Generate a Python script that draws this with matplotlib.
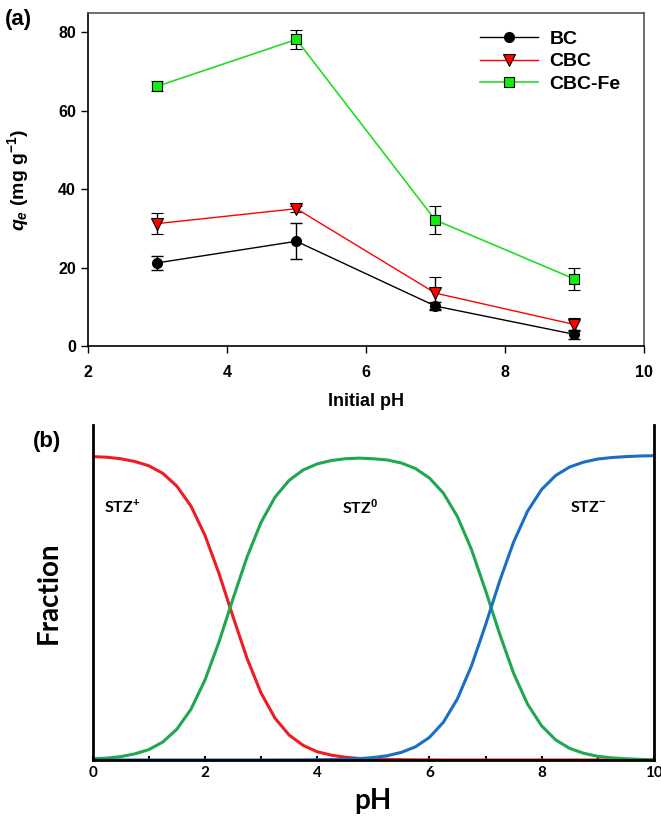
import numpy as np
import matplotlib
matplotlib.use('Agg')
import matplotlib.pyplot as plt

plt.rcParams['mathtext.fontset'] = 'custom'
plt.rcParams['mathtext.rm'] = 'Liberation Sans:bold'
plt.rcParams['mathtext.it'] = 'Liberation Sans:bold:italic'
plt.rcParams['mathtext.bf'] = 'Liberation Sans:bold'

# ---- panel (a): adsorption capacity vs initial pH
ph_a = [3, 5, 7, 9]
bc = [21.3, 26.8, 10.3, 3.1]
bc_err = [1.8, 4.6, 1.0, 1.1]
cbc = [31.3, 35.1, 13.6, 5.6]
cbc_err = [2.6, 0.8, 4.1, 1.6]
cbcfe = [66.3, 78.2, 32.2, 17.2]
cbcfe_err = [1.2, 2.5, 3.6, 2.9]

# ---- panel (b): species fractions
ph_b = [0.0, 0.25, 0.5, 0.75, 1.0, 1.25, 1.5, 1.75, 2.0, 2.25, 2.5, 2.75, 3.0,
        3.25, 3.5, 3.75, 4.0, 4.25, 4.5, 4.75, 5.0, 5.25, 5.5, 5.75, 6.0, 6.25,
        6.5, 6.75, 7.0, 7.25, 7.5, 7.75, 8.0, 8.25, 8.5, 8.75, 9.0, 9.25, 9.5,
        9.75, 10.0]
stz_pos = [0.996, 0.994, 0.989, 0.980, 0.966, 0.941, 0.899, 0.834, 0.738, 0.613,
           0.471, 0.334, 0.220, 0.137, 0.082, 0.048, 0.027, 0.016, 0.009, 0.005,
           0.003, 0.002, 0.001, 0.0005, 0.0003, 0.0, 0.0, 0.0, 0.0, 0.0, 0.0,
           0.0, 0.0, 0.0, 0.0, 0.0, 0.0, 0.0, 0.0, 0.0, 0.0]
stz_zero = [0.004, 0.006, 0.011, 0.020, 0.034, 0.059, 0.101, 0.166, 0.262, 0.387,
            0.529, 0.666, 0.780, 0.863, 0.918, 0.952, 0.972, 0.983, 0.989, 0.991,
            0.989, 0.985, 0.975, 0.957, 0.926, 0.876, 0.799, 0.691, 0.557, 0.415,
            0.285, 0.183, 0.112, 0.066, 0.038, 0.022, 0.012, 0.007, 0.004, 0.002,
            0.001]
stz_neg = [0.0, 0.0, 0.0, 0.0, 0.0, 0.0, 0.0, 0.0, 0.0, 0.0, 0.0, 0.0, 0.0,
           0.0001, 0.0002, 0.0004, 0.0008, 0.0014, 0.0025, 0.0044, 0.008, 0.014,
           0.025, 0.043, 0.074, 0.124, 0.201, 0.309, 0.443, 0.586, 0.715, 0.817,
           0.888, 0.934, 0.962, 0.978, 0.988, 0.993, 0.996, 0.998, 0.999]

fig = plt.figure(figsize=(6.61, 8.24), dpi=100)

# ---------------- (a)
ax1 = fig.add_axes([0.133, 0.5795, 0.841, 0.405])
ax1.errorbar(ph_a, bc, yerr=bc_err, color='black', lw=1, marker='o', ms=7,
             mfc='black', mec='black', ecolor='black', elinewidth=1, capsize=4,
             label='BC', zorder=3)
ax1.errorbar(ph_a, cbc, yerr=cbc_err, color='red', lw=1, marker='v', ms=8,
             mfc='red', mec='black', mew=0.8, ecolor='black', elinewidth=1,
             capsize=4, label='CBC', zorder=3)
ax1.errorbar(ph_a, cbcfe, yerr=cbcfe_err, color='#22dd22', lw=1.2, marker='s',
             ms=7, mfc='#11ee11', mec='black', mew=0.8, ecolor='black',
             elinewidth=1, capsize=4, label='CBC-Fe', zorder=3)
ax1.set_xlim(2, 10)
ax1.set_ylim(0, 85)
ax1.set_xticks([2, 4, 6, 8, 10])
ax1.set_yticks([0, 20, 40, 60, 80])
for s in ax1.spines.values():
    s.set_color('#555555')
    s.set_linewidth(1.2)
ax1.spines['left'].set_color('black')
ax1.spines['bottom'].set_color('black')
ax1.tick_params(direction='out', length=5, width=1, labelsize=11.5)
ax1.tick_params(axis='x', pad=8)
for lab in ax1.get_xticklabels() + ax1.get_yticklabels():
    lab.set_fontweight('bold')
    lab.set_family('Liberation Sans')
ax1.set_xlabel('Initial pH', fontsize=13, fontweight='bold',
               family='Liberation Sans', labelpad=10)
ax1.set_ylabel(r'$q_e$ (mg g$^{-1}$)', fontsize=14,
               fontweight='bold', family='Liberation Sans')
ax1.yaxis.set_label_coords(-0.103, 0.5)
handles, labels = ax1.get_legend_handles_labels()
handles = [h[0] for h in handles]
leg = ax1.legend(handles, labels, loc='upper right',
                 bbox_to_anchor=(0.99, 1.0), frameon=False,
                 handlelength=3.0, handletextpad=0.6, labelspacing=0.25,
                 prop={'weight': 'bold', 'size': 14, 'family': 'Liberation Sans'})
fig.text(0.008, 0.97, '(a)', fontsize=16, fontweight='bold',
         family='Liberation Sans')

# ---------------- (b)
ax2 = fig.add_axes([0.1402, 0.0777, 0.849, 0.4066])
ax2.plot(ph_b, stz_pos, color='#ee1c24', lw=2.2, solid_joinstyle='round')
ax2.plot(ph_b, stz_zero, color='#1fa84f', lw=2.2, solid_joinstyle='round')
ax2.plot(ph_b, stz_neg, color='#1b6fc2', lw=2.2, solid_joinstyle='round')
ax2.set_xlim(0, 10)
ax2.set_ylim(0, 1.1)
ax2.set_yticks([])
ax2.set_xticks([0, 2, 4, 6, 8, 10])
ax2.set_xticks([1, 3, 5, 7, 9], minor=True)
ax2.spines['top'].set_visible(False)
for k in ['left', 'right', 'bottom']:
    ax2.spines[k].set_linewidth(2)
    ax2.spines[k].set_color('black')
ax2.tick_params(axis='x', which='both', direction='in', length=3, width=1.5,
                labelsize=11, pad=4)
for lab in ax2.get_xticklabels():
    lab.set_fontweight('bold')
    lab.set_family('Lato')
ax2.set_xlabel('pH', fontsize=20, fontweight='bold', family='Lato', labelpad=6)
ax2.set_ylabel('Fraction', fontsize=20, fontweight='bold', family='Lato',
               labelpad=22)
ax2.text(0.2, 0.83, r'STZ$^{+}$', fontsize=11.5, fontweight='bold',
         family='Lato', va='center')
ax2.text(4.45, 0.83, r'STZ$^{0}$', fontsize=11.5, fontweight='bold',
         family='Lato', va='center')
ax2.text(8.5, 0.83, r'STZ$^{-}$', fontsize=11.5, fontweight='bold',
         family='Lato', va='center')
fig.text(0.05, 0.458, '(b)', fontsize=16, fontweight='bold',
         family='Liberation Sans')

fig.savefig('out.png', dpi=100)
